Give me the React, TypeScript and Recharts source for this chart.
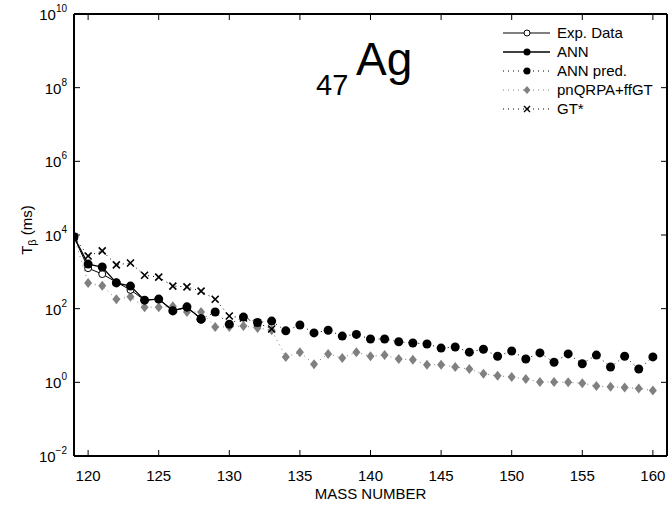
import React from 'react';
import { ComposedChart, Line, XAxis, YAxis, Legend } from 'recharts';

const FONT = '"Liberation Sans", Arial, Helvetica, sans-serif';
const GRAY = '#808080';

const massNumbers = [119, 120, 121, 122, 123, 124, 125, 126, 127, 128, 129, 130, 131, 132, 133, 134, 135, 136, 137, 138, 139, 140, 141, 142, 143, 144, 145, 146, 147, 148, 149, 150, 151, 152, 153, 154, 155, 156, 157, 158, 159, 160];

const expMass = [119, 120, 121, 122, 123, 124, 125, 126, 127, 128];
const expHalfLife = [8900, 1260, 870, 525, 324, 170, 182, 91, 105, 56];

const annMass = [119, 120, 121, 122, 123, 124, 125, 126, 127, 128];
const annHalfLife = [8900, 1620, 1350, 500, 410, 170, 182, 87, 112, 52];

const annPredMass = [128, 129, 130, 131, 132, 133, 134, 135, 136, 137, 138, 139, 140, 141, 142, 143, 144, 145, 146, 147, 148, 149, 150, 151, 152, 153, 154, 155, 156, 157, 158, 159, 160];
const annPredHalfLife = [52, 81, 38, 59, 42, 46, 25, 36, 22, 26, 18, 20, 15, 15, 12.6, 11.7, 11, 8.5, 9.1, 6.6, 7.9, 5.1, 7.1, 4.3, 6.3, 3.5, 5.9, 3.2, 5.5, 2.6, 5.1, 2.3, 4.9];

const qrpaMass = massNumbers;
const qrpaHalfLife = [8900, 500, 420, 180, 210, 110, 110, 117, 81, 81, 32, 32, 34, 30, 26, 4.9, 6.6, 3.1, 5.9, 4.6, 6.6, 5.1, 5.5, 4.3, 4.1, 3.0, 3.0, 2.6, 2.3, 1.7, 1.5, 1.4, 1.23, 1.02, 1.02, 1.0, 0.95, 0.79, 0.76, 0.72, 0.68, 0.60];

const gtMass = [119, 120, 121, 122, 123, 124, 125, 126, 127, 128, 129, 130, 131, 132, 133];
const gtHalfLife = [8900, 2700, 3700, 1550, 1740, 810, 720, 410, 390, 300, 180, 63, 56, 41, 28];

const xTicks = [120, 125, 130, 135, 140, 145, 150, 155, 160];
const yTicks = [0.01, 1, 100, 1e4, 1e6, 1e8, 1e10];

const legendLabels = ['Exp. Data', 'ANN', 'ANN pred.', 'pnQRPA+ffGT', 'GT*'];
const xLabel = 'MASS NUMBER';

type Row = { mass: number; [k: string]: number | undefined };
const rows: Row[] = massNumbers.map((m) => ({ mass: m }));
function put(key: string, masses: number[], values: number[]) {
  masses.forEach((m, i) => {
    const r = rows.find((row) => row.mass === m);
    if (r) r[key] = values[i];
  });
}
put('exp', expMass, expHalfLife);
put('ann', annMass, annHalfLife);
put('annPred', annPredMass, annPredHalfLife);
put('qrpa', qrpaMass, qrpaHalfLife);
put('gt', gtMass, gtHalfLife);

const ok = (p: any) => p && p.cx != null && p.cy != null && !isNaN(p.cx) && !isNaN(p.cy);

const FilledDot = (p: any) =>
  ok(p) ? <circle key={p.key ?? p.index} cx={p.cx} cy={p.cy} r={4.5} fill="#000" /> : <g key={p.key ?? p.index} />;
const OpenDot = (p: any) =>
  ok(p) ? <circle key={p.key ?? p.index} cx={p.cx} cy={p.cy} r={3.5} fill="#fff" stroke="#000" strokeWidth={1} /> : <g key={p.key ?? p.index} />;
const DiamondDot = (p: any) =>
  ok(p) ? (
    <path key={p.key ?? p.index} d={`M${p.cx},${p.cy - 5}L${p.cx + 4},${p.cy}L${p.cx},${p.cy + 5}L${p.cx - 4},${p.cy}Z`} fill={GRAY} />
  ) : <g key={p.key ?? p.index} />;
const CrossDot = (p: any) =>
  ok(p) ? (
    <path key={p.key ?? p.index} d={`M${p.cx - 3.5},${p.cy - 3.5}L${p.cx + 3.5},${p.cy + 3.5}M${p.cx - 3.5},${p.cy + 3.5}L${p.cx + 3.5},${p.cy - 3.5}`} stroke="#000" strokeWidth={1.6} fill="none" />
  ) : <g key={p.key ?? p.index} />;

const BottomTick = (p: any) => (
  <g>
    <line x1={p.x} x2={p.x} y1={p.y} y2={p.y - 6} stroke="#000" strokeWidth={1} />
    <text x={p.x} y={p.y + 25} textAnchor="middle" fontSize={15} fontFamily={FONT} fill="#000">{p.payload.value}</text>
  </g>
);
const TopTick = (p: any) => (
  <line x1={p.x} x2={p.x} y1={p.y} y2={p.y + 6} stroke="#000" strokeWidth={1} />
);
const LeftTick = (p: any) => {
  const e = Math.round(Math.log10(p.payload.value));
  const es = e < 0 ? `\u2212${-e}` : `${e}`;
  return (
    <g>
      <line x1={p.x} x2={p.x + 6} y1={p.y} y2={p.y} stroke="#000" strokeWidth={1} />
      <text x={p.x - 7} y={p.y + 6} textAnchor="end" fontFamily={FONT} fill="#000">
        <tspan fontSize={15}>10</tspan>
        <tspan fontSize={10} dy={-8}>{es}</tspan>
      </text>
    </g>
  );
};
const RightTick = (p: any) => (
  <line x1={p.x} x2={p.x - 6} y1={p.y} y2={p.y} stroke="#000" strokeWidth={1} />
);

const legendStyles = [
  { dash: undefined, color: '#000', width: 1, marker: 'open' },
  { dash: undefined, color: '#000', width: 1.3, marker: 'filled' },
  { dash: '1 4', color: '#000', width: 1, marker: 'filled' },
  { dash: '1 4', color: GRAY, width: 1, marker: 'diamond' },
  { dash: '1 4', color: '#000', width: 1, marker: 'cross' },
];

const renderLegend = () => (
  <svg width={175} height={100} style={{ display: 'block', overflow: 'visible' }}>
    {legendLabels.map((label, i) => {
      const s = legendStyles[i];
      const y = 13 + i * 19;
      const cx = 32;
      let marker: React.ReactNode = null;
      if (s.marker === 'open') marker = <circle cx={cx} cy={y} r={3} fill="#fff" stroke="#000" strokeWidth={1} />;
      if (s.marker === 'filled') marker = <circle cx={cx} cy={y} r={3.5} fill="#000" />;
      if (s.marker === 'diamond') marker = <path d={`M${cx},${y - 4}L${cx + 3.5},${y}L${cx},${y + 4}L${cx - 3.5},${y}Z`} fill={GRAY} />;
      if (s.marker === 'cross') marker = <path d={`M${cx - 3},${y - 3}L${cx + 3},${y + 3}M${cx - 3},${y + 3}L${cx + 3},${y - 3}`} stroke="#000" strokeWidth={1.4} />;
      return (
        <g key={label}>
          <line x1={8} x2={55} y1={y} y2={y} stroke={s.color} strokeWidth={s.width} strokeDasharray={s.dash} />
          {marker}
          <text x={62} y={y + 5} fontSize={15} fontFamily={FONT} fill="#000">{label}</text>
        </g>
      );
    })}
  </svg>
);

const YLabel = () => (
  <text transform="translate(32,230) rotate(-90)" textAnchor="middle" fontFamily={FONT} fill="#000" fontSize={15}>
    T<tspan fontSize={11} dy={4}>β</tspan><tspan dy={-4}> (ms)</tspan>
  </text>
);

const XLabel = (p: any) => {
  const vb = p.viewBox || { x: 74, width: 593, y: 456 };
  return (
    <text x={vb.x + vb.width / 2} y={499} textAnchor="middle" fontFamily={FONT} fontSize={15} fill="#000">{xLabel}</text>
  );
};

export default function App() {
  return (
    <div style={{ position: 'absolute', left: 0, top: 0, width: 668, height: 506, background: '#fff', fontFamily: FONT }}>
      <ComposedChart width={668} height={506} data={rows} margin={{ top: 0, right: 0, bottom: 0, left: 0 }}>
        <XAxis
          dataKey="mass"
          type="number"
          domain={[119, 161]}
          ticks={xTicks}
          allowDataOverflow
          height={50}
          tickSize={0}
          tickMargin={0}
          tickLine={false}
          axisLine={{ stroke: '#000', strokeWidth: 2 }}
          tick={BottomTick}
          label={<XLabel />}
        />
        <XAxis
          xAxisId="top"
          orientation="top"
          dataKey="mass"
          type="number"
          domain={[119, 161]}
          ticks={xTicks}
          allowDataOverflow
          height={14}
          tickSize={0}
          tickMargin={0}
          tickLine={false}
          axisLine={{ stroke: '#000', strokeWidth: 2 }}
          tick={TopTick}
        />
        <YAxis
          type="number"
          scale="log"
          domain={[0.01, 1e10]}
          ticks={yTicks}
          allowDataOverflow
          width={74}
          tickSize={0}
          tickMargin={0}
          tickLine={false}
          axisLine={{ stroke: '#000', strokeWidth: 2 }}
          tick={LeftTick}
          label={<YLabel />}
        />
        <YAxis
          yAxisId="right"
          orientation="right"
          type="number"
          scale="log"
          domain={[0.01, 1e10]}
          ticks={yTicks}
          allowDataOverflow
          width={1}
          tickSize={0}
          tickMargin={0}
          tickLine={false}
          axisLine={{ stroke: '#000', strokeWidth: 2 }}
          tick={RightTick}
        />
        <Legend
          content={renderLegend}
          layout="vertical"
          align="center"
          verticalAlign="middle"
          wrapperStyle={{ left: 495, top: 20, width: 175, height: 100 }}
        />
        <Line dataKey="qrpa" stroke={GRAY} strokeWidth={1} strokeDasharray="1 4" dot={DiamondDot} activeDot={false} isAnimationActive={false} legendType="none" />
        <Line dataKey="exp" stroke="#000" strokeWidth={1} dot={OpenDot} activeDot={false} isAnimationActive={false} legendType="none" />
        <Line dataKey="annPred" stroke="#000" strokeWidth={1} strokeDasharray="1 4" dot={FilledDot} activeDot={false} isAnimationActive={false} legendType="none" />
        <Line dataKey="ann" stroke="#000" strokeWidth={1.3} dot={FilledDot} activeDot={false} isAnimationActive={false} legendType="none" />
        <Line dataKey="gt" stroke="#000" strokeWidth={1} strokeDasharray="1 4" dot={CrossDot} activeDot={false} isAnimationActive={false} legendType="none" />
      </ComposedChart>
      <svg width={668} height={506} style={{ position: 'absolute', left: 0, top: 0, pointerEvents: 'none' }}>
        <text fontFamily={FONT} fill="#000">
          <tspan x={316} y={95} fontSize={29}>47</tspan>
          <tspan x={356} y={75} fontSize={46}>Ag</tspan>
        </text>
      </svg>
    </div>
  );
}
